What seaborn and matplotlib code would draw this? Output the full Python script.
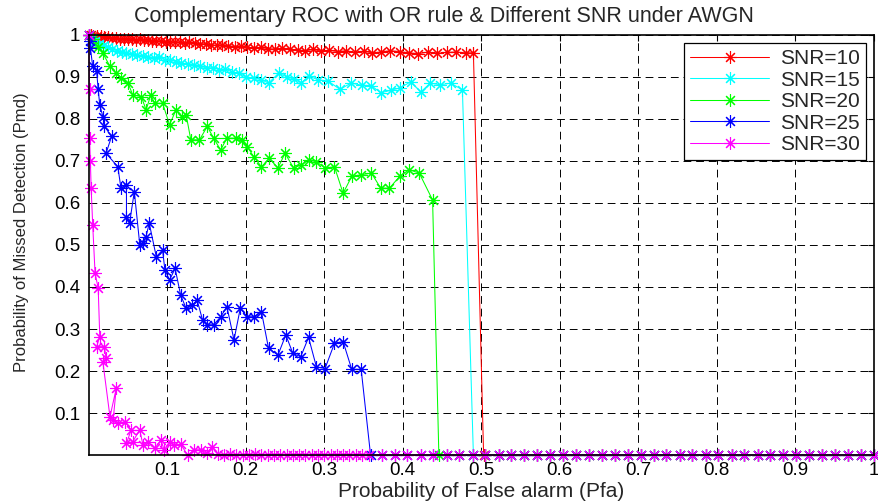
import matplotlib
matplotlib.use("Agg")
import matplotlib.pyplot as plt
import seaborn as sns
import pandas as pd

# ---------------- data ----------------
SERIES = ["SNR=10", "SNR=15", "SNR=20", "SNR=25", "SNR=30"]
COLORS = ["#ff0000", "#00ffff", "#00ff00", "#0000ff", "#ff00ff"]

RED_X = [0.000, 0.003, 0.006, 0.010, 0.015, 0.020, 0.025, 0.030, 0.035, 0.040,
         0.045, 0.050, 0.055, 0.060, 0.065, 0.070, 0.075, 0.080, 0.086, 0.092,
         0.098, 0.104, 0.110, 0.116, 0.122, 0.128, 0.135, 0.142, 0.149, 0.156,
         0.163, 0.170, 0.178, 0.186, 0.194, 0.202, 0.210, 0.219, 0.228, 0.237,
         0.246, 0.256, 0.266, 0.276, 0.286, 0.296, 0.306, 0.317, 0.328, 0.339,
         0.350, 0.361, 0.372, 0.384, 0.396, 0.408, 0.420, 0.432, 0.444, 0.456,
         0.468, 0.480, 0.490, 0.503]
RED_Y = [1.000, 0.999, 0.998, 0.997, 0.996, 0.995, 0.994, 0.993, 0.992, 0.991,
         0.991, 0.990, 0.989, 0.988, 0.989, 0.987, 0.987, 0.986, 0.985, 0.986,
         0.984, 0.983, 0.984, 0.982, 0.981, 0.982, 0.980, 0.978, 0.979, 0.976,
         0.975, 0.976, 0.974, 0.972, 0.973, 0.970, 0.969, 0.970, 0.967, 0.966,
         0.968, 0.965, 0.964, 0.962, 0.965, 0.961, 0.963, 0.960, 0.962, 0.958,
         0.961, 0.957, 0.959, 0.962, 0.960, 0.957, 0.955, 0.959, 0.956, 0.958,
         0.959, 0.957, 0.957, 0.000]

CYAN_X = [0.000, 0.004, 0.008, 0.013, 0.018, 0.024, 0.030, 0.036, 0.042, 0.048,
          0.055, 0.062, 0.069, 0.076, 0.083, 0.090, 0.097, 0.104, 0.111, 0.118,
          0.126, 0.134, 0.142, 0.150, 0.158, 0.166, 0.174, 0.182, 0.191, 0.200,
          0.210, 0.220, 0.229, 0.242, 0.252, 0.262, 0.271, 0.280, 0.292, 0.305,
          0.320, 0.334, 0.348, 0.360, 0.372, 0.385, 0.397, 0.410, 0.423, 0.435,
          0.448, 0.461, 0.476, 0.490]
CYAN_Y = [1.000, 0.992, 0.985, 0.979, 0.974, 0.970, 0.966, 0.962, 0.959, 0.957,
          0.954, 0.951, 0.950, 0.947, 0.944, 0.946, 0.941, 0.940, 0.936, 0.934,
          0.930, 0.928, 0.925, 0.921, 0.922, 0.917, 0.918, 0.912, 0.909, 0.900,
          0.897, 0.893, 0.885, 0.909, 0.900, 0.894, 0.886, 0.902, 0.893, 0.890,
          0.870, 0.885, 0.880, 0.879, 0.862, 0.868, 0.874, 0.888, 0.864, 0.885,
          0.881, 0.885, 0.869, 0.000]

GREEN_X = [0.000, 0.005, 0.012, 0.018, 0.027, 0.035, 0.041, 0.050, 0.056, 0.067,
           0.073, 0.079, 0.084, 0.094, 0.103, 0.111, 0.119, 0.124, 0.130, 0.141,
           0.151, 0.159, 0.168, 0.176, 0.187, 0.195, 0.202, 0.210, 0.220, 0.230,
           0.241, 0.250, 0.261, 0.270, 0.280, 0.290, 0.301, 0.313, 0.324, 0.335,
           0.347, 0.360, 0.372, 0.383, 0.396, 0.408, 0.421, 0.438, 0.446]
GREEN_Y = [1.000, 0.990, 0.972, 0.956, 0.925, 0.909, 0.897, 0.885, 0.857, 0.853,
           0.821, 0.857, 0.837, 0.837, 0.786, 0.821, 0.805, 0.810, 0.750, 0.750,
           0.782, 0.754, 0.726, 0.754, 0.754, 0.750, 0.734, 0.710, 0.686, 0.706,
           0.683, 0.718, 0.683, 0.690, 0.702, 0.698, 0.683, 0.686, 0.623, 0.663,
           0.667, 0.671, 0.635, 0.635, 0.663, 0.679, 0.671, 0.607, 0.000]

BLUE_X = [0.000, 0.001, 0.002, 0.005, 0.010, 0.012, 0.014, 0.018, 0.020, 0.029,
          0.022, 0.037, 0.041, 0.048, 0.048, 0.052, 0.058, 0.065, 0.069, 0.073,
          0.077, 0.086, 0.094, 0.097, 0.103, 0.110, 0.117, 0.124, 0.132, 0.138,
          0.145, 0.151, 0.159, 0.168, 0.176, 0.185, 0.193, 0.202, 0.210, 0.220,
          0.229, 0.241, 0.251, 0.260, 0.270, 0.280, 0.290, 0.301, 0.313, 0.324,
          0.335, 0.347, 0.359]
BLUE_Y = [1.000, 0.985, 0.969, 0.925, 0.913, 0.870, 0.833, 0.805, 0.782, 0.758,
          0.718, 0.686, 0.635, 0.643, 0.567, 0.552, 0.627, 0.500, 0.504, 0.520,
          0.552, 0.472, 0.488, 0.440, 0.417, 0.444, 0.381, 0.349, 0.357, 0.369,
          0.321, 0.310, 0.310, 0.329, 0.353, 0.274, 0.349, 0.329, 0.329, 0.341,
          0.254, 0.238, 0.286, 0.242, 0.234, 0.280, 0.210, 0.206, 0.266, 0.270,
          0.204, 0.204, 0.000]

MAG_X = [0.000, 0.001, 0.001, 0.002, 0.003, 0.005, 0.008, 0.012, 0.014, 0.010,
         0.020, 0.022, 0.018, 0.027, 0.035, 0.031, 0.037, 0.046, 0.054, 0.048,
         0.056, 0.065, 0.069, 0.075, 0.084, 0.092, 0.096, 0.103, 0.109, 0.117,
         0.126, 0.134, 0.143, 0.150, 0.157, 0.165, 0.172, 0.180, 0.188, 0.196,
         0.204, 0.212, 0.220, 0.228, 0.236, 0.244, 0.252, 0.260, 0.268, 0.276,
         0.284, 0.292, 0.300, 0.308, 0.316, 0.324, 0.332, 0.340, 0.348]
MAG_Y = [1.000, 0.870, 0.755, 0.700, 0.636, 0.548, 0.433, 0.397, 0.282, 0.258,
         0.258, 0.230, 0.221, 0.091, 0.159, 0.083, 0.077, 0.079, 0.060, 0.028,
         0.032, 0.060, 0.024, 0.032, 0.016, 0.036, 0.012, 0.032, 0.024, 0.026,
         0.000, 0.012, 0.013, 0.004, 0.020, 0.002, 0.000, 0.003, 0.000, 0.001,
         0.000, 0.002, 0.000, 0.000, 0.001, 0.000, 0.000, 0.000, 0.001, 0.000,
         0.000, 0.000, 0.000, 0.000, 0.000, 0.000, 0.000, 0.000, 0.000]

# Pfa points where every curve sits at Pmd = 0 after its drop
TAIL_X = [0.357, 0.373, 0.390, 0.406, 0.423, 0.439, 0.456, 0.472, 0.489, 0.505,
          0.522, 0.538, 0.555, 0.571, 0.588, 0.604, 0.621, 0.637, 0.654, 0.670,
          0.687, 0.703, 0.720, 0.736, 0.753, 0.769, 0.786, 0.802, 0.819, 0.835,
          0.852, 0.868, 0.885, 0.901, 0.918, 0.934, 0.951, 0.967, 0.984, 1.000]

X_TICKS = [0.1, 0.2, 0.3, 0.4, 0.5, 0.6, 0.7, 0.8, 0.9, 1]
Y_TICKS = [0.1, 0.2, 0.3, 0.4, 0.5, 0.6, 0.7, 0.8, 0.9, 1]
X_TICK_LABELS = ["0.1", "0.2", "0.3", "0.4", "0.5", "0.6", "0.7", "0.8", "0.9", "1"]
Y_TICK_LABELS = ["0.1", "0.2", "0.3", "0.4", "0.5", "0.6", "0.7", "0.8", "0.9", "1"]

TITLE = "Complementary ROC with OR rule & Different SNR under AWGN"
XLABEL = "Probability of False alarm (Pfa)"
YLABEL = "Probability of Missed Detection (Pmd)"

# ---------------- build long table ----------------
frames = []
for name, xs, ys in zip(SERIES,
                        [RED_X, CYAN_X, GREEN_X, BLUE_X, MAG_X],
                        [RED_Y, CYAN_Y, GREEN_Y, BLUE_Y, MAG_Y]):
    tail = [t for t in TAIL_X if t > xs[-1]]
    df = pd.DataFrame({"Pfa": list(xs) + tail,
                       "Pmd": list(ys) + [0.0] * len(tail),
                       "SNR": name})
    frames.append(df)
data = pd.concat(frames, ignore_index=True)

# ---------------- style ----------------
sns.set_theme(style="white")
plt.rcParams["font.family"] = ["Liberation Sans", "DejaVu Sans"]
plt.rcParams.update({
    "xtick.direction": "in", "ytick.direction": "in",
    "xtick.top": True, "ytick.right": True,
    "xtick.major.size": 4, "ytick.major.size": 4,
    "xtick.major.width": 0.8, "ytick.major.width": 0.8,
    "xtick.color": "black", "ytick.color": "black",
    "axes.edgecolor": "black",
})

fig = plt.figure(figsize=(8.79, 5.04), dpi=100)
ax = fig.add_axes([0.101, 0.097, 0.893, 0.834])

sns.lineplot(data=data, x="Pfa", y="Pmd", hue="SNR", palette=COLORS,
             hue_order=SERIES, sort=False, estimator=None,
             marker=(8, 2, 0), markersize=9, linewidth=0.75,
             legend=False, ax=ax)

for line in ax.lines:
    line.set_markeredgecolor(line.get_color())
    line.set_markeredgewidth(0.8)
    line.set_clip_on(False)

ax.set_xlim(0, 1)
ax.set_ylim(0, 1)
ax.set_xticks(X_TICKS)
ax.set_xticklabels(X_TICK_LABELS, fontsize=13.5)
ax.set_yticks(Y_TICKS)
ax.set_yticklabels(Y_TICK_LABELS, fontsize=13.5)
ax.tick_params(axis="x", which="both", pad=5)
ax.tick_params(axis="y", which="both", pad=6)
ax.grid(True, color="black", linestyle=(0, (8, 5)), linewidth=0.7)
ax.set_axisbelow(True)
for sp in ax.spines.values():
    sp.set_linewidth(1.2)
    sp.set_color("black")

ttl = ax.set_title(TITLE, fontsize=15.5, pad=9)
ttl.set_x(0.453)
ax.set_xlabel(XLABEL, fontsize=15, labelpad=2)
ax.set_ylabel(YLABEL, fontsize=12)
ax.yaxis.set_label_coords(-0.076, 0.531)

leg = ax.legend(handles=ax.lines[:5], labels=SERIES, loc="upper right",
                bbox_to_anchor=(0.99, 0.981), borderaxespad=0,
                fontsize=15, handlelength=3.8, handletextpad=0.5,
                labelspacing=0.12, borderpad=0.3, frameon=True,
                fancybox=False, edgecolor="black", framealpha=1)
leg.get_frame().set_linewidth(0.9)

fig.savefig("out.png", dpi=100)
